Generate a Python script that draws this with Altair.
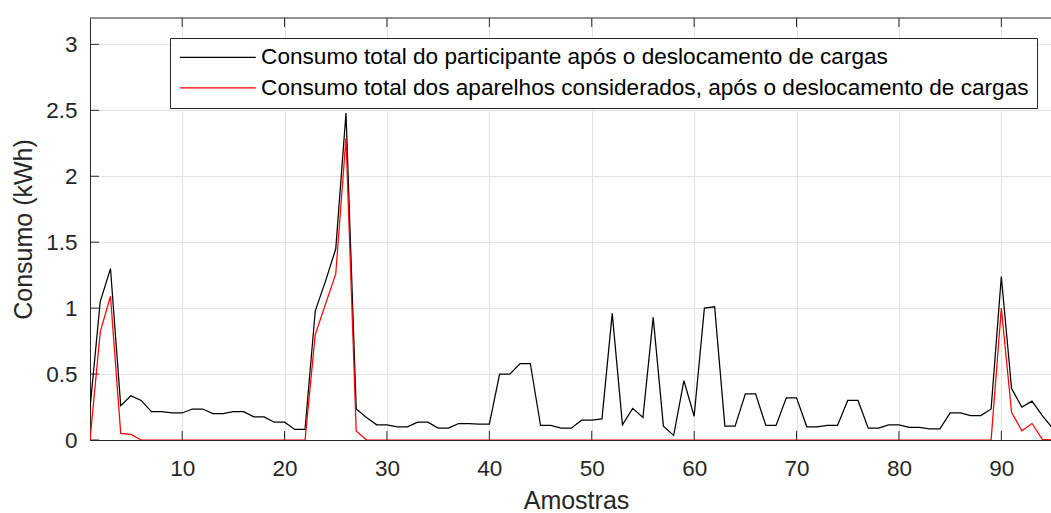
import altair as alt
import pandas as pd

# Load-shifting results, one value per sample (kWh)
amostras = list(range(1, 96))

consumo_total = [
    0.24, 1.05, 1.30, 0.26, 0.335, 0.30, 0.215, 0.215, 0.205, 0.205,
    0.235, 0.235, 0.20, 0.20, 0.215, 0.215, 0.175, 0.175, 0.135, 0.135,
    0.08, 0.08, 0.98, 1.205, 1.45, 2.48, 0.235, 0.17, 0.115, 0.115,
    0.10, 0.10, 0.135, 0.135, 0.09, 0.09, 0.125, 0.125, 0.12, 0.12,
    0.50, 0.50, 0.58, 0.58, 0.11, 0.11, 0.09, 0.09, 0.15, 0.15,
    0.16, 0.96, 0.115, 0.24, 0.17, 0.93, 0.105, 0.035, 0.45, 0.18,
    1.00, 1.01, 0.105, 0.105, 0.35, 0.35, 0.11, 0.11, 0.32, 0.32,
    0.10, 0.10, 0.11, 0.11, 0.30, 0.30, 0.09, 0.09, 0.115, 0.115,
    0.095, 0.095, 0.085, 0.085, 0.205, 0.205, 0.185, 0.185, 0.235, 1.24,
    0.39, 0.25, 0.295, 0.185, 0.09,
]

consumo_aparelhos = [
    0.0, 0.82, 1.09, 0.05, 0.043, 0.0, 0.0, 0.0, 0.0, 0.0,
    0.0, 0.0, 0.0, 0.0, 0.0, 0.0, 0.0, 0.0, 0.0, 0.0,
    0.0, 0.0, 0.80, 1.03, 1.26, 2.29, 0.068, 0.0, 0.0, 0.0,
    0.0, 0.0, 0.0, 0.0, 0.0, 0.0, 0.0, 0.0, 0.0, 0.0,
    0.0, 0.0, 0.0, 0.0, 0.0, 0.0, 0.0, 0.0, 0.0, 0.0,
    0.0, 0.0, 0.0, 0.0, 0.0, 0.0, 0.0, 0.0, 0.0, 0.0,
    0.0, 0.0, 0.0, 0.0, 0.0, 0.0, 0.0, 0.0, 0.0, 0.0,
    0.0, 0.0, 0.0, 0.0, 0.0, 0.0, 0.0, 0.0, 0.0, 0.0,
    0.0, 0.0, 0.0, 0.0, 0.0, 0.0, 0.0, 0.0, 0.0, 1.00,
    0.21, 0.07, 0.125, 0.005, 0.0,
]

x_ticks = [10, 20, 30, 40, 50, 60, 70, 80, 90]
y_ticks = [0, 0.5, 1, 1.5, 2, 2.5, 3]

SERIE_TOTAL = "Consumo total do participante após o deslocamento de cargas"
SERIE_APAR = "Consumo total dos aparelhos considerados, após o deslocamento de cargas"

df = pd.DataFrame({
    "Amostra": amostras * 2,
    "Consumo": consumo_total + consumo_aparelhos,
    "Serie": [SERIE_TOTAL] * len(amostras) + [SERIE_APAR] * len(amostras),
})
xt_df = pd.DataFrame({"Amostra": x_ticks})
yt_df = pd.DataFrame({"Consumo": y_ticks})
box_df = pd.DataFrame({"k": [0]})

W, H = 961, 422
AX = "#262626"
GRID = "#e2e2e2"
TICK_LEN = 9

x_scale = alt.Scale(domain=[1, 94.85], nice=False, zero=False)
y_scale = alt.Scale(domain=[0, 3.2], nice=False, zero=True)
color_scale = alt.Scale(domain=[SERIE_TOTAL, SERIE_APAR], range=["#000000", "#ff0000"])

x_axis = alt.Axis(
    values=x_ticks, title="Amostras", grid=True, gridColor=GRID, gridWidth=1,
    tickSize=0, domainColor=AX, domainWidth=1,
    labelFontSize=22.5, labelColor=AX, labelPadding=17,
    titleFontSize=25, titleFontWeight="normal", titleColor=AX,
    titlePadding=9, titleX=486,
)
y_axis = alt.Axis(
    values=y_ticks, title="Consumo (kWh)", grid=True, gridColor=GRID, gridWidth=1,
    tickSize=0, domainColor=AX, domainWidth=1, format=".1~f",
    labelFontSize=22.5, labelColor=AX, labelPadding=13,
    titleFontSize=25, titleFontWeight="normal", titleColor=AX,
    titlePadding=9,
)

x_enc = alt.X("Amostra:Q", scale=x_scale, axis=x_axis)
y_enc = alt.Y("Consumo:Q", scale=y_scale, axis=y_axis)

# legend swatch: a long horizontal stroke on a small nominal symbol size,
# so the entry rows stay as tall as the text
legend = alt.Legend(
    title=None, orient="none", legendX=80, legendY=20,
    symbolType="M-4,0L4,0", symbolSize=361, symbolStrokeWidth=1.3,
    symbolOffset=28.5,
    labelFontSize=22.6, labelColor="#000000", labelLimit=2000, labelOffset=32,
    padding=8, rowPadding=7.5, strokeColor=AX, fillColor="#ffffff",
)
color_enc = alt.Color("Serie:N", scale=color_scale, legend=legend,
                      sort=[SERIE_TOTAL, SERIE_APAR])

# inward tick marks (bottom, top and left edges of the box)
ticks_bottom = alt.Chart(xt_df).mark_rule(color=AX, strokeWidth=1).encode(
    x=x_enc, y=alt.value(H), y2=alt.value(H - TICK_LEN)
)
ticks_top = alt.Chart(xt_df).mark_rule(color=AX, strokeWidth=1).encode(
    x=x_enc, y=alt.value(0), y2=alt.value(TICK_LEN)
)
ticks_left = alt.Chart(yt_df).mark_rule(color=AX, strokeWidth=1).encode(
    y=y_enc, x=alt.value(0), x2=alt.value(TICK_LEN)
)
top_border = alt.Chart(box_df).mark_rule(color=AX, strokeWidth=1).encode(
    x=alt.value(0), x2=alt.value(W), y=alt.value(0)
)

linha_total = alt.Chart(df).transform_filter(
    alt.datum.Serie == SERIE_TOTAL
).mark_line(strokeWidth=1.25, clip=True).encode(x=x_enc, y=y_enc, color=color_enc)

linha_apar = alt.Chart(df).transform_filter(
    alt.datum.Serie == SERIE_APAR
).mark_line(strokeWidth=1.25, clip=True).encode(x=x_enc, y=y_enc, color=color_enc)

chart = alt.layer(
    ticks_bottom, ticks_top, ticks_left, top_border, linha_total, linha_apar
).properties(
    width=W, height=H,
    autosize=alt.AutoSizeParams(type="none"),
    padding={"left": 90, "top": 18, "right": 0, "bottom": 73},
).configure(
    font="Liberation Sans",
).configure_view(
    stroke=None,
)

chart.save("out.html", embed_options={"renderer": "svg", "actions": False})
